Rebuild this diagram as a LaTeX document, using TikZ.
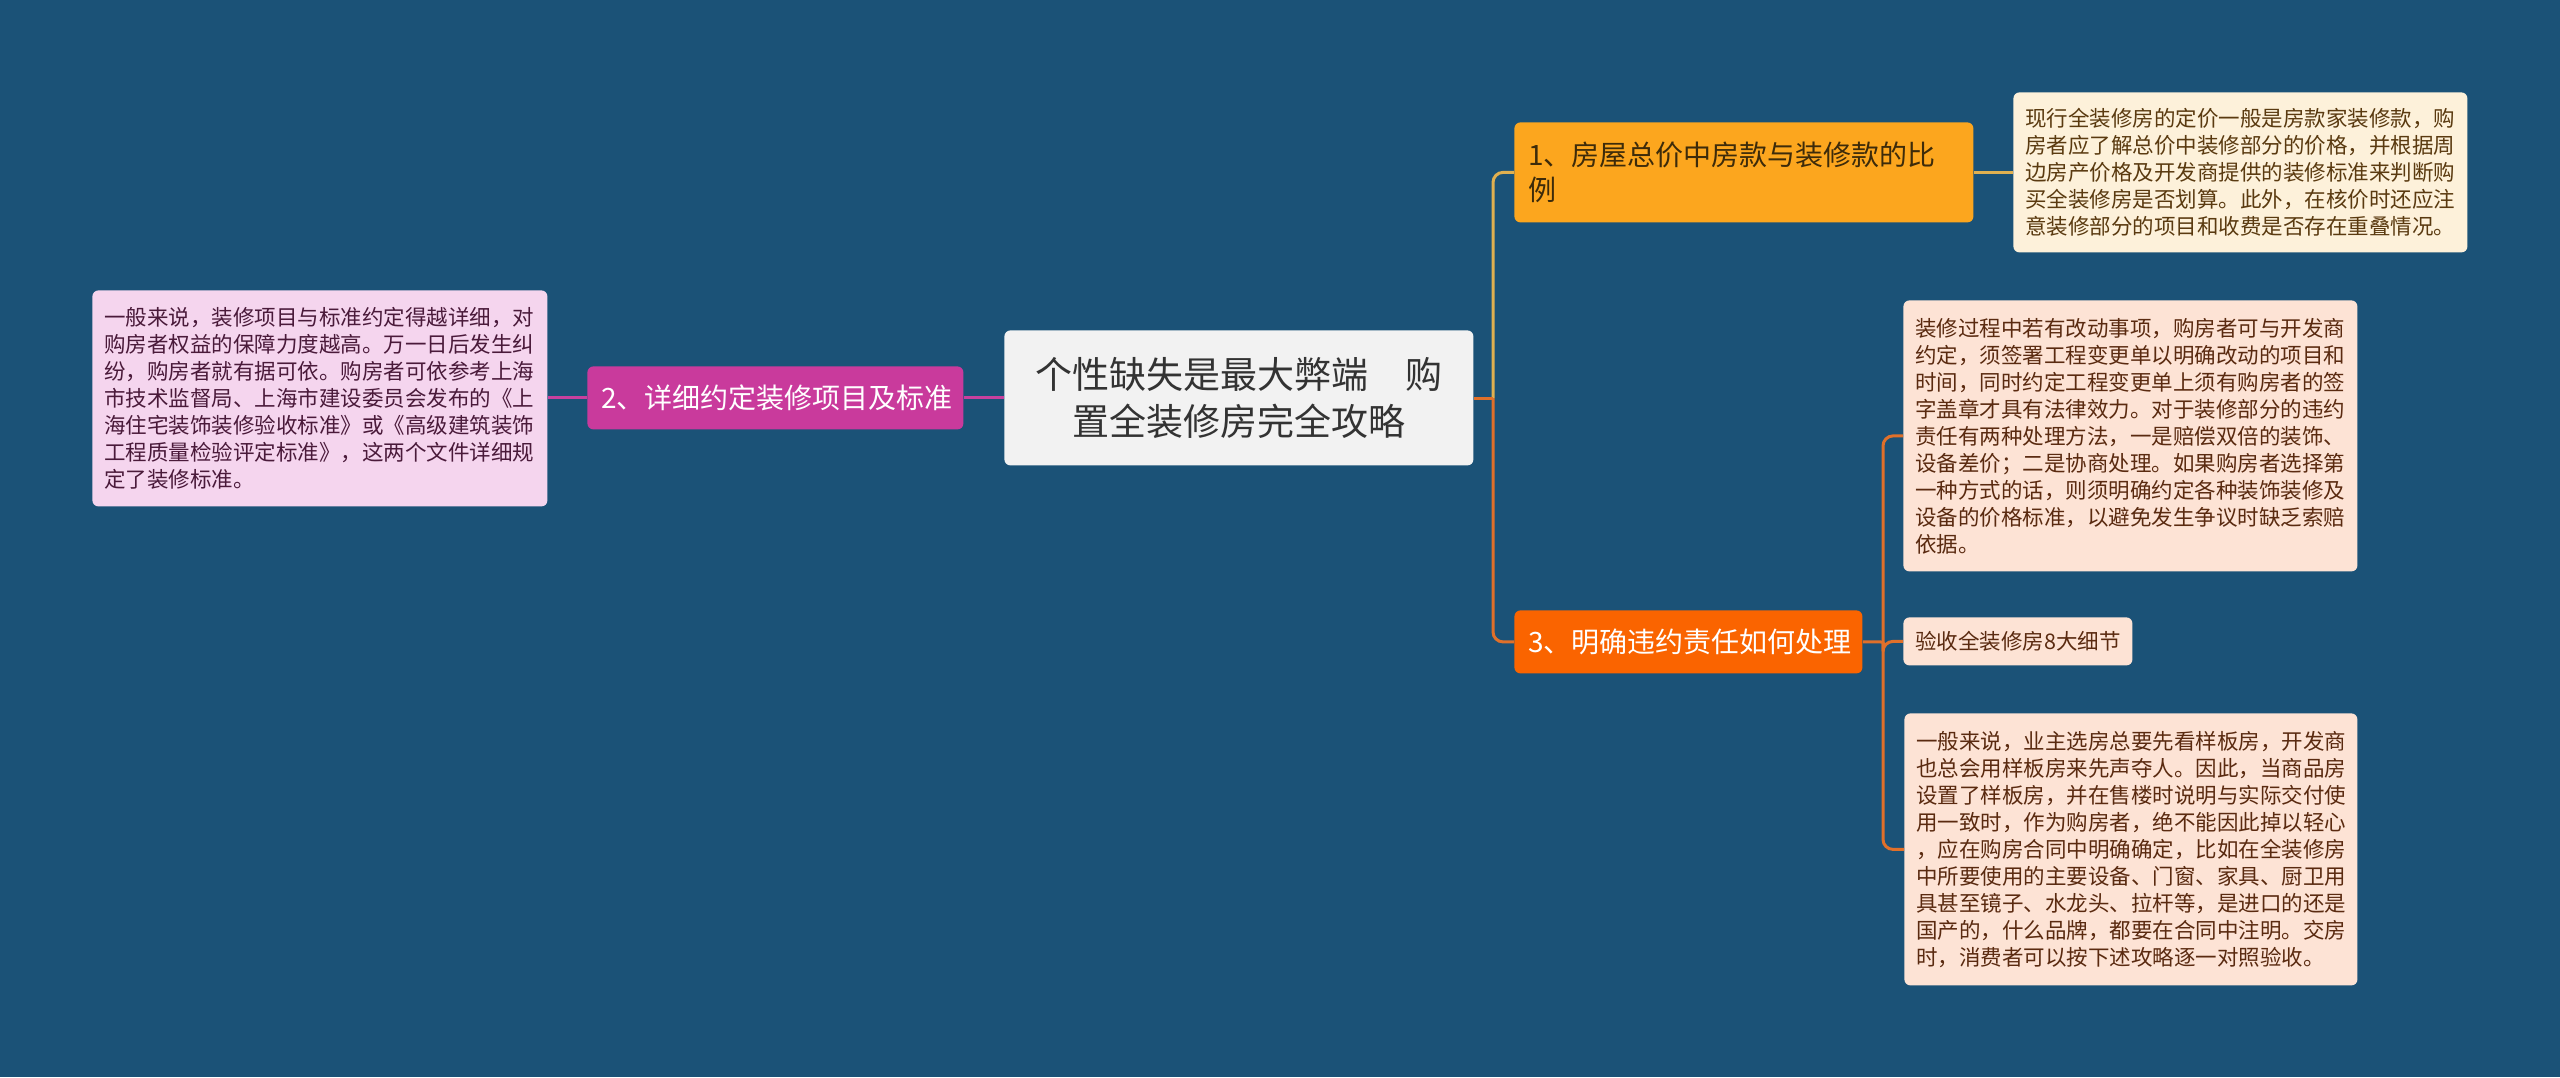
\documentclass[tikz,border=0pt]{standalone}
\usepackage{fontspec}
\setmainfont{Noto Sans CJK SC}
\definecolor{bg}{HTML}{1B5277}
\definecolor{cfill}{HTML}{F2F2F2}
\definecolor{ctext}{HTML}{333333}
\definecolor{bone}{HTML}{FCA61E}
\definecolor{bonetext}{HTML}{3D2B0A}
\definecolor{lone}{HTML}{FDF1DA}
\definecolor{lonetext}{HTML}{5A3A10}
\definecolor{btwo}{HTML}{C93A9C}
\definecolor{ltwo}{HTML}{F5D5EE}
\definecolor{ltwotext}{HTML}{4A1A3A}
\definecolor{bthree}{HTML}{FA6400}
\definecolor{lthree}{HTML}{FDE3D5}
\definecolor{lthreetext}{HTML}{5A2A10}
\definecolor{cone}{HTML}{E0B050}
\definecolor{ctwo}{HTML}{C8409E}
\definecolor{cthree}{HTML}{E0702A}
\begin{document}
\begin{tikzpicture}[x=0.5pt,y=-0.5pt,
  box/.style={anchor=north west, rounded corners=3pt, inner ysep=0pt, align=left},
  centerbox/.style={box, fill=cfill, text=ctext, align=center, inner xsep=0pt,
    font=\fontsize{18.5pt}{23.5pt}\selectfont},
  branchbox/.style={box, inner xsep=7pt, font=\fontsize{14pt}{17.5pt}\selectfont},
  leafbox/.style={box, inner xsep=6pt, font=\fontsize{10.75pt}{13.5pt}\selectfont},
  conn/.style={line width=1.5pt, rounded corners=5pt}
]
\useasboundingbox (0,0) rectangle (2560,1077);
\fill[bg] (0,0) rectangle (2560,1077);

% central
\node[centerbox, text width=234.5pt, minimum height=67.5pt] (center) at (1004,330)
  {个性缺失是最大弊端　购\\置全装修房完全攻略};

% branch 1
\node[branchbox, fill=bone, text=bonetext, text width=215.5pt, minimum height=50pt] (b1) at (1514,122)
  {1、房屋总价中房款与装修款的比\\例};
\node[leafbox, fill=lone, text=lonetext, text width=215pt, minimum height=80pt] (l1) at (2013,92)
  {现行全装修房的定价一般是房款家装修款，购\\房者应了解总价中装修部分的价格，并根据周\\边房产价格及开发商提供的装修标准来判断购\\买全装修房是否划算。此外，在核价时还应注\\意装修部分的项目和收费是否存在重叠情况。};

% branch 2
\node[branchbox, fill=btwo, text=white, text width=174pt, minimum height=31.5pt] (b2) at (587,366)
  {2、详细约定装修项目及标准};
\node[leafbox, fill=ltwo, text=ltwotext, text width=215.5pt, minimum height=108pt] (l2) at (92,290)
  {一般来说，装修项目与标准约定得越详细，对\\购房者权益的保障力度越高。万一日后发生纠\\纷，购房者就有据可依。购房者可依参考上海\\市技术监督局、上海市建设委员会发布的《上\\海住宅装饰装修验收标准》或《高级建筑装饰\\工程质量检验评定标准》，这两个文件详细规\\定了装修标准。};

% branch 3
\node[branchbox, fill=bthree, text=white, text width=160pt, minimum height=31.5pt] (b3) at (1514,610)
  {3、明确违约责任如何处理};
\node[leafbox, fill=lthree, text=lthreetext, text width=215pt, minimum height=135.5pt] (l3a) at (1903,300)
  {装修过程中若有改动事项，购房者可与开发商\\约定，须签署工程变更单以明确改动的项目和\\时间，同时约定工程变更单上须有购房者的签\\字盖章才具有法律效力。对于装修部分的违约\\责任有两种处理方法，一是赔偿双倍的装饰、\\设备差价；二是协商处理。如果购房者选择第\\一种方式的话，则须明确约定各种装饰装修及\\设备的价格标准，以避免发生争议时缺乏索赔\\依据。};
\node[leafbox, fill=lthree, text=lthreetext, text width=102.5pt, minimum height=24pt] (l3b) at (1903,617)
  {验收全装修房8大细节};
\node[leafbox, fill=lthree, text=lthreetext, text width=214.5pt, minimum height=136pt] (l3c) at (1904,713)
  {一般来说，业主选房总要先看样板房，开发商\\也总会用样板房来先声夺人。因此，当商品房\\设置了样板房，并在售楼时说明与实际交付使\\用一致时，作为购房者，绝不能因此掉以轻心\\，应在购房合同中明确确定，比如在全装修房\\中所要使用的主要设备、门窗、家具、厨卫用\\具甚至镜子、水龙头、拉杆等，是进口的还是\\国产的，什么品牌，都要在合同中注明。交房\\时，消费者可以按下述攻略逐一对照验收。};

% connectors
\coordinate (t1) at (1493,398);
\coordinate (t3) at (1883,642);
\begin{scope}[on background layer/.try]
\end{scope}
\draw[conn, cone] (t1) |- (b1.west);
\draw[conn, cthree] (t1) |- (b3.west);
\draw[conn, cthree] (center.east |- t1) -- (t1);
\draw[conn, cone] (b1.east) -- (l1.west |- b1.east);
\draw[conn, ctwo] (center.west |- b2.east) -- (b2.east);
\draw[conn, ctwo] (b2.west) -- (l2.east |- b2.west);
\draw[conn, cthree] (b3.east) -- (t3);
\draw[conn, cthree] (t3) |- (l3a.west);
\draw[conn, cthree] (t3) -- (l3b.west -| t3) -- (l3b.west);
\draw[conn, cthree] (t3) |- (l3c.west);
\end{tikzpicture}
\end{document}
